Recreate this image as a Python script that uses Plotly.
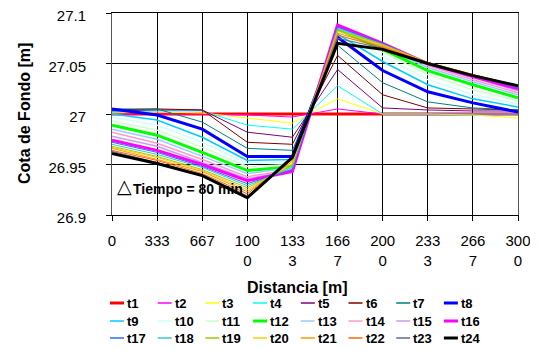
import plotly.graph_objects as go

distancia = [0, 333, 667, 1000, 1333, 1667, 2000, 2333, 2667, 3000]
tick_labels = ["0", "333", "667", "100<br>0", "133<br>3", "166<br>7", "200<br>0", "233<br>3", "266<br>7", "300<br>0"]

names = ["t%d" % i for i in range(1, 25)]

t1 = [27.000, 27.000, 27.000, 27.000, 27.000, 27.000, 27.000, 27.000, 27.000, 27.000]
t2 = [27.000, 27.000, 27.000, 26.999, 26.997, 27.005, 27.000, 27.000, 27.000, 27.000]
t3 = [27.001, 27.002, 27.001, 26.996, 26.991, 27.015, 27.000, 27.000, 26.999, 26.996]
t4 = [27.002, 27.003, 27.003, 26.989, 26.985, 27.028, 27.000, 27.000, 27.000, 27.000]
t5 = [27.003, 27.004, 27.004, 26.982, 26.977, 27.044, 27.006, 27.004, 27.003, 27.003]
t6 = [27.004, 27.005, 27.004, 26.972, 26.970, 27.058, 27.019, 27.006, 27.005, 27.004]
t7 = [27.005, 27.005, 26.992, 26.966, 26.964, 27.068, 27.031, 27.012, 27.006, 27.004]
t8 = [27.005, 26.999, 26.985, 26.958, 26.958, 27.076, 27.043, 27.022, 27.011, 27.002]
t9 = [27.000, 26.994, 26.977, 26.954, 26.955, 27.079, 27.052, 27.029, 27.015, 27.007]
t10 = [26.997, 26.989, 26.972, 26.951, 26.953, 27.081, 27.057, 27.034, 27.019, 27.010]
t11 = [26.993, 26.984, 26.967, 26.948, 26.950, 27.083, 27.061, 27.039, 27.024, 27.013]
t12 = [26.989, 26.979, 26.962, 26.944, 26.948, 27.084, 27.064, 27.043, 27.029, 27.016]
t13 = [26.985, 26.975, 26.958, 26.941, 26.947, 27.085, 27.066, 27.046, 27.032, 27.019]
t14 = [26.982, 26.971, 26.955, 26.938, 26.945, 27.086, 27.068, 27.048, 27.034, 27.021]
t15 = [26.978, 26.968, 26.952, 26.936, 26.944, 27.087, 27.069, 27.049, 27.036, 27.023]
t16 = [26.974, 26.964, 26.950, 26.934, 26.943, 27.088, 27.070, 27.050, 27.037, 27.025]
t17 = [26.972, 26.962, 26.948, 26.931, 26.945, 27.086, 27.070, 27.050, 27.038, 27.026]
t18 = [26.970, 26.960, 26.947, 26.929, 26.947, 27.085, 27.069, 27.051, 27.038, 27.027]
t19 = [26.968, 26.958, 26.945, 26.927, 26.949, 27.083, 27.069, 27.051, 27.039, 27.027]
t20 = [26.967, 26.957, 26.944, 26.925, 26.951, 27.082, 27.068, 27.051, 27.039, 27.028]
t21 = [26.966, 26.955, 26.943, 26.923, 26.953, 27.080, 27.067, 27.051, 27.039, 27.028]
t22 = [26.964, 26.954, 26.941, 26.921, 26.955, 27.078, 27.066, 27.051, 27.039, 27.028]
t23 = [26.963, 26.952, 26.940, 26.919, 26.956, 27.075, 27.065, 27.050, 27.038, 27.028]
t24 = [26.961, 26.951, 26.939, 26.917, 26.957, 27.070, 27.064, 27.050, 27.038, 27.028]

series = [t1, t2, t3, t4, t5, t6, t7, t8, t9, t10, t11, t12,
          t13, t14, t15, t16, t17, t18, t19, t20, t21, t22, t23, t24]

colors = ["#FF0000", "#FF00FF", "#FFFF00", "#00FFFF", "#800080", "#800000", "#008080", "#0000FF",
          "#00CCFF", "#CCFFFF", "#CCFFCC", "#00FF00", "#99CCFF", "#FF99CC", "#CC99FF", "#FF00FF",
          "#3366FF", "#33CCCC", "#99CC00", "#FFCC00", "#FF9900", "#FF6600", "#666699", "#000000"]
widths = [3, 1, 1, 1, 1, 1, 1, 3,
          1.5, 1.5, 1.5, 3, 1.5, 1.5, 1.5, 3,
          1, 1, 1, 1, 1, 1, 1, 3]

# The page body has an 8px margin, so the figure sits 8px right/down in the window.
OFF = 8
W, H = 530, 342
ML, MR, MT, MB = 104, 20, 5, 135
PW, PH = W - ML - MR, H - MT - MB

def px_x(px):
    return (px - OFF - ML) / PW

def px_y(py):
    return (H - MB - (py - OFF)) / PH

FONT = "Arial, Liberation Sans, sans-serif"

fig = go.Figure()
for name, ys, c, w in zip(names, series, colors, widths):
    fig.add_trace(go.Scatter(x=distancia, y=ys, mode="lines", name=name,
                             line=dict(color=c, width=w), showlegend=False))

fig.update_layout(
    template="none",
    width=W, height=H,
    margin=dict(l=ML, r=MR, t=MT, b=MB, pad=0, autoexpand=False),
    paper_bgcolor="white", plot_bgcolor="white",
    font=dict(family=FONT, size=15, color="black"),
)
fig.update_xaxes(
    range=[0, 3000], tickvals=distancia, ticktext=tick_labels,
    showgrid=True, gridcolor="black", gridwidth=1,
    showline=True, linecolor="black", linewidth=1, mirror=True,
    ticks="outside", ticklen=5, tickcolor="black",
    ticklabelstandoff=7, tickfont=dict(size=15), zeroline=False, automargin=False,
    ticklabeloverflow="allow",
)
fig.update_yaxes(
    range=[26.9, 27.1], tickvals=[26.9, 26.95, 27.0, 27.05, 27.1],
    ticktext=["26.9", "26.95", "27", "27.05", "27.1"],
    showgrid=True, gridcolor="black", gridwidth=1,
    showline=True, linecolor="#555555", linewidth=1, mirror=True,
    ticks="outside", ticklen=5, tickcolor="black",
    ticklabelstandoff=17, ticklabelshift=3, tickfont=dict(size=15),
    zeroline=False, automargin=False, ticklabeloverflow="allow",
)

# axis titles
fig.add_annotation(text="<b>Cota de Fondo [m]</b>", xref="paper", yref="paper",
                   x=px_x(24), y=px_y(114), textangle=-90, showarrow=False,
                   font=dict(size=16, family=FONT), xanchor="center", yanchor="middle")
fig.add_annotation(text="<b>Distancia [m]</b>", xref="paper", yref="paper",
                   x=px_x(297), y=px_y(287), showarrow=False,
                   font=dict(size=16, family=FONT), xanchor="center", yanchor="middle")

# in-plot note
fig.add_annotation(text="\u25B3", xref="paper", yref="paper", x=px_x(115), y=px_y(186),
                   showarrow=False, font=dict(size=19, family="DejaVu Sans"),
                   xanchor="left", yanchor="middle")
fig.add_annotation(text="<b>Tiempo = 80 min</b>", xref="paper", yref="paper", x=px_x(131), y=px_y(189),
                   showarrow=False, font=dict(size=14, family=FONT),
                   xanchor="left", yanchor="middle")

# legend (8 columns x 3 rows)
col_x0, col_dx = 110, 47.7
row_y = [303, 321, 338]
for i, (name, c, w) in enumerate(zip(names, colors, widths)):
    r, k = divmod(i, 8)
    x0 = col_x0 + k * col_dx
    y0 = row_y[r]
    fig.add_shape(type="line", xref="paper", yref="paper",
                  x0=px_x(x0), x1=px_x(x0 + 14), y0=px_y(y0), y1=px_y(y0),
                  line=dict(color=c, width=max(w, 1.5)))
    fig.add_annotation(text="<b>%s</b>" % name, xref="paper", yref="paper",
                       x=px_x(x0 + 15), y=px_y(y0), showarrow=False,
                       font=dict(size=13, family=FONT), xanchor="left", yanchor="middle")

fig.write_html("out.html")
